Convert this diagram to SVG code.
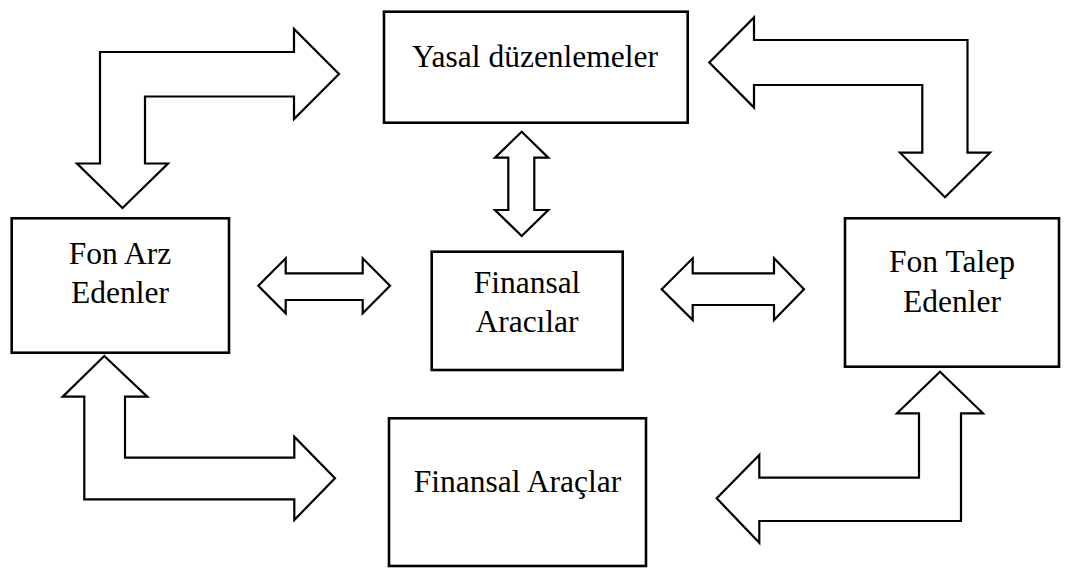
<svg xmlns="http://www.w3.org/2000/svg" width="1068" height="569" viewBox="0 0 1068 569">
  <style>
    .box { fill: #ffffff; stroke: #000000; stroke-width: 2.6; }
    .lbl { font-size: 31.5px; fill: #000000; text-anchor: middle; }
    .arrow { fill: #ffffff; stroke: #000000; stroke-width: 2.2; stroke-linejoin: miter; stroke-miterlimit: 10; }
  </style>
  <rect width="1068" height="569" fill="#ffffff"/>

  <!-- block arrows linking the actors -->
  <g id="connectors">
    <!-- Yasal düzenlemeler <-> Fon Arz Edenler -->
    <polygon class="arrow" points="100,52 294,52 294,29 339,74 294,119 294,96.5 145,96.5 145,163.5 168,163.5 122.5,208 77,163.5 100,163.5"/>
    <!-- Yasal düzenlemeler <-> Fon Talep Edenler -->
    <polygon class="arrow" points="754,40 967.5,40 967.5,152.7 990,152.7 945,197.3 900,152.7 922.3,152.7 922.3,85 754,85 754,107.5 709.3,62.5 754,17.5"/>
    <!-- Yasal düzenlemeler <-> Finansal Aracılar -->
    <polygon class="arrow" points="521.7,131.7 548.3,157.7 534.3,157.7 534.3,210 548.3,210 521.7,236 495,210 508.3,210 508.3,157.7 495,157.7"/>
    <!-- Fon Arz Edenler <-> Finansal Aracılar -->
    <polygon class="arrow" points="258.3,285.8 285.7,258.3 285.7,273.3 362.7,273.3 362.7,258.3 390,285.8 362.7,313.3 362.7,300 285.7,300 285.7,313.3"/>
    <!-- Finansal Aracılar <-> Fon Talep Edenler -->
    <polygon class="arrow" points="661.7,289.2 692.7,258.3 692.7,273.3 774,273.3 774,258.3 804,289.2 774,320 774,305 692.7,305 692.7,320"/>
    <!-- Fon Arz Edenler <-> Finansal Araçlar -->
    <polygon class="arrow" points="104.3,356 147.3,396.7 125,396.7 125,457.7 294.3,457.7 294.3,436.7 335,478.3 294.3,520 294.3,499.3 84.3,499.3 84.3,396.7 62.7,396.7"/>
    <!-- Fon Talep Edenler <-> Finansal Araçlar -->
    <polygon class="arrow" points="940,371.7 983,413.3 961,413.3 961,521 759.3,521 759.3,542.7 716.7,498.3 759.3,455 759.3,477.7 919,477.7 919,413.3 897,413.3"/>
  </g>

  <g id="yasal-duzenlemeler" font-family="Liberation Serif, DejaVu Serif, serif">
    <rect class="box" x="384" y="11.7" width="303.7" height="111"/>
    <text class="lbl" x="535" y="66.7">Yasal düzenlemeler</text>
  </g>

  <g id="fon-arz-edenler" font-family="Liberation Serif, DejaVu Serif, serif">
    <rect class="box" x="11.7" y="218.3" width="217.3" height="134.4"/>
    <text class="lbl" x="120" y="264">Fon Arz</text>
    <text class="lbl" x="120" y="303.3">Edenler</text>
  </g>

  <g id="finansal-aracilar" font-family="Liberation Serif, DejaVu Serif, serif">
    <rect class="box" x="431.7" y="251.7" width="191" height="118.3"/>
    <text class="lbl" x="527" y="292.7">Finansal</text>
    <text class="lbl" x="527" y="331.7">Aracılar</text>
  </g>

  <g id="fon-talep-edenler" font-family="Liberation Serif, DejaVu Serif, serif">
    <rect class="box" x="845" y="218.3" width="214" height="148.4"/>
    <text class="lbl" x="952" y="271.7">Fon Talep</text>
    <text class="lbl" x="952" y="311.7">Edenler</text>
  </g>

  <g id="finansal-araclar" font-family="Liberation Serif, DejaVu Serif, serif">
    <rect class="box" x="389" y="418.3" width="257" height="147.7"/>
    <text class="lbl" x="517.5" y="491.7">Finansal Araçlar</text>
  </g>
</svg>
